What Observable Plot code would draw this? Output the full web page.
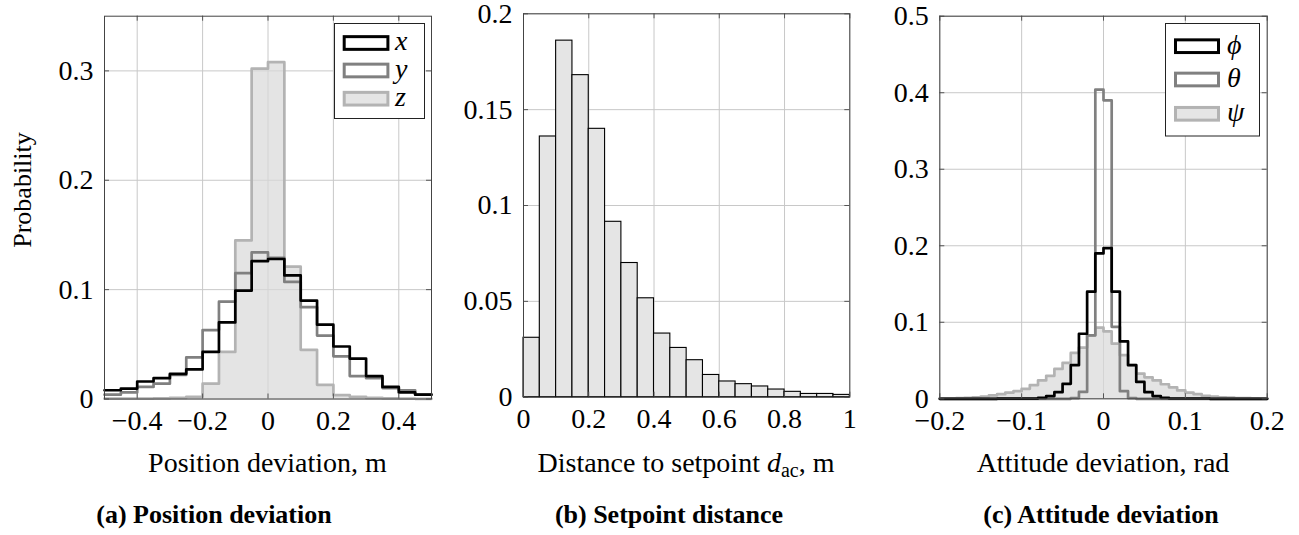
<!DOCTYPE html>
<html>
<head>
<meta charset="utf-8">
<script src="https://cdn.jsdelivr.net/npm/d3@7"></script>
<script src="https://cdn.jsdelivr.net/npm/@observablehq/plot@0.6"></script>
<style>
  body { margin: 0; background: #fff; }
  #wrap { position: relative; width: 1299px; height: 535px; overflow: hidden; background: #fff; }
  .panel { position: absolute; top: 0; }
  #overlay { position: absolute; left: 0; top: 0; }
</style>
</head>
<body>
<div id="wrap"></div>
<script>
// ---------------- data ----------------
// (a) Position deviation: 20 bins of 0.05 from -0.5 to 0.5
const posBinStart = -0.5, posBinWidth = 0.05;
const posX = [0.008, 0.0095, 0.016, 0.019, 0.023, 0.027, 0.043, 0.070, 0.099, 0.126,
              0.128, 0.113, 0.090, 0.068, 0.048, 0.037, 0.021, 0.011, 0.006, 0.004];
const posY = [0.004, 0.006, 0.011, 0.014, 0.022, 0.038, 0.063, 0.089, 0.115, 0.134,
              0.129, 0.107, 0.084, 0.058, 0.039, 0.021, 0.019, 0.010, 0.008, 0.004];
const posZ = [0.0003, 0.0003, 0.0004, 0.0005, 0.001, 0.002, 0.014, 0.043, 0.145, 0.302,
              0.308, 0.121, 0.045, 0.013, 0.0035, 0.002, 0.001, 0.0005, 0.0003, 0.0002];

// (b) Setpoint distance: 20 bins of 0.05 from 0 to 1
const distBinStart = 0, distBinWidth = 0.05;
const distP = [0.031, 0.136, 0.186, 0.168, 0.140, 0.0915, 0.070, 0.0516, 0.0332, 0.0257,
               0.0193, 0.0116, 0.0082, 0.0068, 0.0056, 0.0040, 0.0028, 0.0017, 0.0017, 0.0012];

// (c) Attitude deviation: 40 bins of 0.01 from -0.2 to 0.2
const attBinStart = -0.2, attBinWidth = 0.01;
const attPhi = [0, 0, 0, 0, 0, 0, 0, 0.0003, 0.0003, 0.0003,
                0.0003, 0.0003, 0.0013, 0.0035, 0.0087, 0.0196, 0.044, 0.085, 0.140, 0.190,
                0.197, 0.140, 0.075, 0.044, 0.022, 0.0087, 0.0035, 0.0013, 0.0004, 0.0004,
                0.0004, 0.0004, 0.0004, 0, 0, 0, 0, 0, 0, 0];
const attTheta = [0, 0, 0, 0, 0, 0, 0, 0, 0, 0,
                  0, 0, 0, 0, 0, 0, 0.001, 0.009, 0.083, 0.404,
                  0.390, 0.094, 0.010, 0.001, 0, 0, 0, 0, 0, 0,
                  0, 0, 0, 0, 0, 0, 0, 0, 0, 0];
const attPsi = [0.0005, 0.0007, 0.001, 0.0013, 0.002, 0.003, 0.0045, 0.006, 0.008, 0.010,
                0.013, 0.018, 0.024, 0.030, 0.039, 0.047, 0.060, 0.067, 0.083, 0.093,
                0.088, 0.072, 0.057, 0.044, 0.033, 0.028, 0.024, 0.019, 0.015, 0.011,
                0.008, 0.006, 0.004, 0.003, 0.002, 0.0015, 0.001, 0.0008, 0.0005, 0.0003];

// ticks
const posXTicks = [-0.4, -0.2, 0, 0.2, 0.4];
const posYTicks = [0, 0.1, 0.2, 0.3];
const distXTicks = [0, 0.2, 0.4, 0.6, 0.8, 1];
const distYTicks = [0, 0.05, 0.1, 0.15, 0.2];
const attXTicks = [-0.2, -0.1, 0, 0.1, 0.2];
const attYTicks = [0, 0.1, 0.2, 0.3, 0.4, 0.5];

// labels
const posSeries = ["x", "y", "z"];
const attSeries = ["\u03D5", "\u03B8", "\u03C8"];
const yLabel = "Probability";
const xLabels = ["Position deviation, m", "Distance to setpoint ", "Attitude deviation, rad"];
const captions = ["(a) Position deviation", "(b) Setpoint distance", "(c) Attitude deviation"];

// ---------------- styles ----------------
const C_DARK = "#000000", C_MID = "#808080", C_LIGHT = "#b3b3b3", C_FILL = "#d9d9d9";
const SERIF = "'Liberation Serif', 'Times New Roman', 'DejaVu Serif', serif";
const LW = 2.7;

function steps(vals, start, w) {
  const pts = vals.map((v, i) => ({x: start + i * w, y: v}));
  pts.push({x: start + vals.length * w, y: vals[vals.length - 1]});
  return pts;
}
const fmt = d => (d < 0 ? "\u2212" : "") + String(Math.abs(d));

const SVG_H = 440;
function makePanel(cfg) {
  const frameH = SVG_H - cfg.mt - cfg.mb;
  const frameW = cfg.width - cfg.ml - cfg.mr;
  const plot = Plot.plot({
    width: cfg.width, height: SVG_H,
    marginLeft: cfg.ml, marginRight: cfg.mr, marginTop: cfg.mt, marginBottom: cfg.mb,
    x: {type: "linear", domain: cfg.xDomain},
    y: {type: "linear", domain: cfg.yDomain},
    style: {fontFamily: SERIF, fontSize: "28px", color: "#000", background: "transparent", overflow: "visible"},
    marks: [
      Plot.gridX(cfg.xTicks, {stroke: "#c8c8c8", strokeOpacity: 1}),
      Plot.gridY(cfg.yTicks, {stroke: "#c8c8c8", strokeOpacity: 1}),
      ...cfg.marks,
      Plot.tickX(cfg.xTicks, {x: d => d, insetTop: frameH - 5, stroke: "#555"}),
      Plot.tickX(cfg.xTicks, {x: d => d, insetBottom: frameH - 5, stroke: "#555"}),
      Plot.tickY(cfg.yTicks, {y: d => d, insetRight: frameW - 5, stroke: "#555"}),
      Plot.tickY(cfg.yTicks, {y: d => d, insetLeft: frameW - 5, stroke: "#555"}),
      Plot.frame({stroke: "#444", strokeWidth: 1}),
      Plot.axisX(cfg.xTicks, {tickSize: 0, tickPadding: 11, tickFormat: fmt, label: null}),
      Plot.axisY(cfg.yTicks, {tickSize: 0, tickPadding: 11, tickFormat: fmt, label: null})
    ]
  });
  const div = document.createElement("div");
  div.className = "panel";
  div.style.left = cfg.left + "px";
  div.appendChild(plot);
  document.getElementById("wrap").appendChild(div);
}

// (a)
const posZs = steps(posZ, posBinStart, posBinWidth);
makePanel({
  left: 0, width: 440, ml: 104, mr: 9, mt: 15.7, mb: SVG_H - 398.5,
  xDomain: [-0.5, 0.5], yDomain: [0, 0.35], xTicks: posXTicks, yTicks: posYTicks,
  marks: [
    Plot.areaY(posZs, {x: "x", y: "y", curve: "step-after", fill: C_FILL, fillOpacity: 0.7}),
    Plot.line(posZs, {x: "x", y: "y", curve: "step-after", stroke: C_LIGHT, strokeWidth: LW}),
    Plot.line(steps(posY, posBinStart, posBinWidth), {x: "x", y: "y", curve: "step-after", stroke: C_MID, strokeWidth: LW}),
    Plot.line(steps(posX, posBinStart, posBinWidth), {x: "x", y: "y", curve: "step-after", stroke: C_DARK, strokeWidth: LW})
  ]
});

// (b)
const distBars = distP.map((v, i) => ({x1: distBinStart + i * distBinWidth, x2: distBinStart + (i + 1) * distBinWidth, y: v}));
makePanel({
  left: 440, width: 430, ml: 83, mr: 430 - 409.3, mt: 13.3, mb: SVG_H - 396.7,
  xDomain: [0, 1], yDomain: [0, 0.2], xTicks: distXTicks, yTicks: distYTicks,
  marks: [
    Plot.rectY(distBars, {x1: "x1", x2: "x2", y: "y", fill: "#e5e5e5", stroke: "#000", strokeWidth: 1.1})
  ]
});

// (c)
const attPsis = steps(attPsi, attBinStart, attBinWidth);
makePanel({
  left: 870, width: 429, ml: 69.3, mr: 429 - 396.7, mt: 15.7, mb: SVG_H - 398.3,
  xDomain: [-0.2, 0.2], yDomain: [0, 0.5], xTicks: attXTicks, yTicks: attYTicks,
  marks: [
    Plot.areaY(attPsis, {x: "x", y: "y", curve: "step-after", fill: C_FILL, fillOpacity: 0.7}),
    Plot.line(attPsis, {x: "x", y: "y", curve: "step-after", stroke: C_LIGHT, strokeWidth: LW}),
    Plot.line(steps(attTheta, attBinStart, attBinWidth), {x: "x", y: "y", curve: "step-after", stroke: C_MID, strokeWidth: LW}),
    Plot.line(steps(attPhi, attBinStart, attBinWidth), {x: "x", y: "y", curve: "step-after", stroke: C_DARK, strokeWidth: LW})
  ]
});

// ---------------- overlay: labels, captions, legends ----------------
const svg = d3.select("#wrap").append("svg").attr("id", "overlay")
  .attr("width", 1299).attr("height", 535)
  .style("font-family", SERIF).style("pointer-events", "none");

// y label
svg.append("text").attr("transform", "translate(31,190) rotate(-90)")
  .attr("text-anchor", "middle").attr("font-size", 26).text(yLabel);

// x labels
svg.append("text").attr("x", 267.5).attr("y", 471.7).attr("text-anchor", "middle")
  .attr("font-size", 28).text(xLabels[0]);
const xb = svg.append("text").attr("x", 686).attr("y", 471.7).attr("text-anchor", "middle").attr("font-size", 28);
xb.append("tspan").text(xLabels[1]);
xb.append("tspan").attr("font-style", "italic").text("d");
xb.append("tspan").attr("font-size", 20).attr("dy", 5).text("ac");
xb.append("tspan").attr("dy", -5).text(", m");
svg.append("text").attr("x", 1103).attr("y", 471.7).attr("text-anchor", "middle")
  .attr("font-size", 28).text(xLabels[2]);

// captions
[214, 669, 1101].forEach((cx, i) => {
  svg.append("text").attr("x", cx).attr("y", 523).attr("text-anchor", "middle")
    .attr("font-size", 26).attr("font-weight", "bold").text(captions[i]);
});

// legends
function legend(box, names, rowCenters, swX, swW, labX, fontSize) {
  const styles = [
    {stroke: C_DARK, fill: "#fff"},
    {stroke: C_MID, fill: "#fff"},
    {stroke: C_LIGHT, fill: "#e5e5e5"}
  ];
  svg.append("rect").attr("x", box[0]).attr("y", box[1]).attr("width", box[2]).attr("height", box[3])
    .attr("fill", "#fff").attr("stroke", "#222").attr("stroke-width", 1);
  names.forEach((n, i) => {
    const cy = rowCenters[i];
    svg.append("rect").attr("x", swX + 1.5).attr("y", cy - 6.35).attr("width", swW - 3).attr("height", 12.7)
      .attr("fill", styles[i].fill).attr("stroke", styles[i].stroke).attr("stroke-width", 3);
    svg.append("text").attr("x", labX).attr("y", cy + 7.3).attr("font-size", fontSize)
      .attr("font-style", "italic").text(n);
  });
}
legend([334.5, 23.5, 90, 95], posSeries, [43, 70.5, 98.7], 342.7, 46.7, 395, 28);
legend([1165.5, 23.5, 94, 112.5], attSeries, [46.2, 79.5, 113.8], 1174, 46, 1227, 28);
</script>
</body>
</html>
